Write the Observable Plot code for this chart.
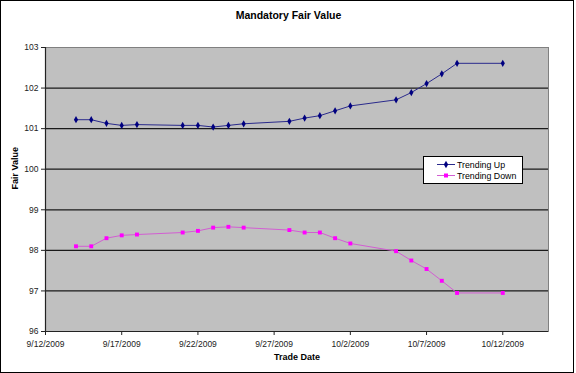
<!DOCTYPE html>
<html>
<head>
<meta charset="utf-8">
<script src="https://cdn.jsdelivr.net/npm/d3@7"></script>
<script src="https://cdn.jsdelivr.net/npm/@observablehq/plot@0.6"></script>
<style>
  html, body { margin: 0; padding: 0; background: #fff; }
  #wrap { position: relative; width: 576px; height: 373px; font-family: "Liberation Sans", Arial, sans-serif; }
  #border { position: absolute; left: 0; top: 0; width: 572px; height: 371px; border: 1.5px solid #000; pointer-events: none; }
  #legend { position: absolute; left: 423px; top: 156px; width: 98px; height: 26px; background: #fff; border: 1px solid #000; font-size: 8.8px; color: #000; }
  #legend .row { position: absolute; left: 0; height: 11px; display: flex; align-items: center; }
  #legend svg { margin-left: 13px; margin-right: 2px; }
  svg text { font-family: "Liberation Sans", Arial, sans-serif; }
</style>
</head>
<body>
<div id="wrap">
  <div id="chart"></div>
  <div id="legend"></div>
  <div id="border"></div>
</div>
<script>
const dates = ["2009-09-14","2009-09-15","2009-09-16","2009-09-17","2009-09-18",
               "2009-09-21","2009-09-22","2009-09-23","2009-09-24","2009-09-25",
               "2009-09-28","2009-09-29","2009-09-30","2009-10-01","2009-10-02",
               "2009-10-05","2009-10-06","2009-10-07","2009-10-08","2009-10-09",
               "2009-10-12"];
const trendingUp = [101.22,101.22,101.13,101.08,101.10,
                    101.08,101.08,101.04,101.08,101.12,
                    101.18,101.26,101.32,101.44,101.56,
                    101.71,101.89,102.11,102.35,102.61,
                    102.61];
const trendingDown = [98.10,98.10,98.30,98.37,98.39,
                      98.44,98.48,98.56,98.58,98.56,
                      98.50,98.44,98.44,98.30,98.17,
                      97.98,97.75,97.54,97.25,96.95,
                      96.95];
const xTicks = ["2009-09-12","2009-09-17","2009-09-22","2009-09-27","2009-10-02","2009-10-07","2009-10-12"];
const xDomain = ["2009-09-12","2009-10-15"];
const yTicks = [96,97,98,99,100,101,102,103];
const seriesNames = ["Trending Up","Trending Down"];
const title = "Mandatory Fair Value";
const xLabel = "Trade Date";
const yLabel = "Fair Value";

const parse = d3.utcParse("%Y-%m-%d");
const up = dates.map((d,i) => ({date: parse(d), value: trendingUp[i]}));
const down = dates.map((d,i) => ({date: parse(d), value: trendingDown[i]}));
const fmt = d => `${d.getUTCMonth()+1}/${d.getUTCDate()}/${d.getUTCFullYear()}`;

const upColor = "#000080", upLine = "#2a2a8c";
const downColor = "#ff00ff", downLine = "#d25ed2";

const chart = Plot.plot({
  width: 576,
  height: 373,
  marginLeft: 45,
  marginRight: 28,
  marginTop: 47,
  marginBottom: 42,
  style: {fontSize: "8.5px", fontFamily: "Liberation Sans, Arial, sans-serif", color: "#222", background: "transparent"},
  x: {type: "utc", domain: xDomain.map(parse)},
  y: {domain: [96, 103]},
  marks: [
    Plot.frame({fill: "#c0c0c0", stroke: "#808080"}),
    Plot.gridY(yTicks.slice(1, -1), {stroke: "#1a1a1a", strokeOpacity: 1, strokeWidth: 1.2}),
    Plot.ruleY([96], {stroke: "#222", strokeWidth: 1.2}),
    Plot.ruleX([parse(xDomain[0])], {stroke: "#222", strokeWidth: 1.2}),
    Plot.axisY(yTicks, {tickSize: 4, tickPadding: 3, label: null, stroke: "#222", fill: "#222"}),
    Plot.axisX(xTicks.map(parse), {tickSize: 4, tickPadding: 5, tickFormat: fmt, label: null, stroke: "#222", fill: "#222"}),
    Plot.line(up, {x: "date", y: "value", stroke: upLine, strokeWidth: 1}),
    Plot.dot(up, {x: "date", y: "value", symbol: "diamond", r: 2.2, fill: upColor, stroke: "none"}),
    Plot.line(down, {x: "date", y: "value", stroke: downLine, strokeWidth: 1}),
    Plot.dot(down, {x: "date", y: "value", symbol: "square", r: 2.2, fill: downColor, stroke: "none"}),
    Plot.text([title], {frameAnchor: "top", dx: -8.5, dy: -31.5, lineAnchor: "middle", fontWeight: "bold", fontSize: 10.5, fill: "#000"}),
    Plot.text([xLabel], {frameAnchor: "bottom", dx: 0, dy: 26, lineAnchor: "middle", fontWeight: "bold", fontSize: 9, fill: "#000"}),
    Plot.text([yLabel], {frameAnchor: "left", dx: -30, dy: 0, rotate: -90, fontWeight: "bold", fontSize: 9, fill: "#000"})
  ]
});
document.getElementById("chart").appendChild(chart);

// legend
const legend = d3.select("#legend");
const styles = [
  {line: upLine, color: upColor, symbol: d3.symbolDiamond},
  {line: downLine, color: downColor, symbol: d3.symbolSquare}
];
seriesNames.forEach((name, i) => {
  const row = legend.append("div").attr("class", "row").style("top", (2 + i * 11) + "px");
  const s = row.append("svg").attr("width", 18).attr("height", 9);
  s.append("line").attr("x1", 0).attr("x2", 18).attr("y1", 4.5).attr("y2", 4.5).attr("stroke", styles[i].line).attr("stroke-width", 1);
  s.append("path").attr("d", d3.symbol(styles[i].symbol, 16)()).attr("transform", "translate(9,4.5)").attr("fill", styles[i].color);
  row.append("span").text(name);
});
</script>
</body>
</html>
